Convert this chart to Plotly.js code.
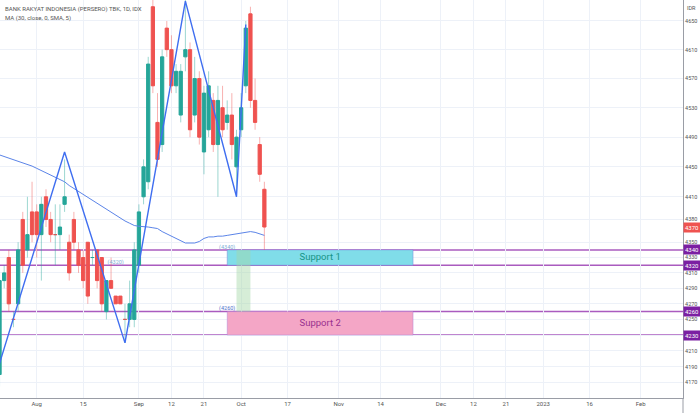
<!DOCTYPE html>
<html><head><meta charset="utf-8">
<script src="https://cdn.plot.ly/plotly-3.0.1.min.js"></script>
<style>html,body{margin:0;padding:0;background:#fff}#chart{width:700px;height:413px}</style>
</head><body><div id="chart"></div>
<script>
// ---- data ----
const dates = ['2022-07-20','2022-07-21','2022-07-22','2022-07-25','2022-07-26','2022-07-27','2022-07-28','2022-07-29',
'2022-08-01','2022-08-02','2022-08-03','2022-08-04','2022-08-05','2022-08-08','2022-08-09','2022-08-10','2022-08-11','2022-08-12',
'2022-08-15','2022-08-16','2022-08-18','2022-08-19','2022-08-22','2022-08-23','2022-08-24','2022-08-25','2022-08-26','2022-08-29','2022-08-30','2022-08-31',
'2022-09-01','2022-09-02','2022-09-05','2022-09-06','2022-09-07','2022-09-08','2022-09-09','2022-09-12','2022-09-13','2022-09-14','2022-09-15','2022-09-16','2022-09-19','2022-09-20','2022-09-21','2022-09-22','2022-09-23','2022-09-26','2022-09-27','2022-09-28','2022-09-29','2022-09-30',
'2022-10-03','2022-10-04','2022-10-05','2022-10-06','2022-10-07','2022-10-10'];
const opens  = [4180,4300,4330,4250,4270,4380,4340,4390, 4390,4360,4410,4380,4360,4360,4400,4350,4380,4340, 4330,4350,4330,4340,4330,4260,4300,4280,4280,4250,4250,4250, 4320,4410,4430,4670,4510,4480,4640,4610,4560,4520,4600,4610,4520,4570,4470,4500,4540,4480,4530,4510,4520,4450, 4500,4560,4660,4540,4480,4420];
const highs  = [4310,4320,4340,4260,4350,4390,4410,4430, 4400,4410,4420,4390,4400,4400,4460,4360,4390,4350, 4340,4350,4340,4340,4330,4300,4330,4280,4280,4270,4300,4350, 4400,4460,4600,4690,4550,4610,4650,4630,4590,4590,4680,4620,4600,4580,4560,4580,4550,4560,4560,4540,4550,4500, 4550,4650,4670,4570,4490,4430];
const lows   = [4165,4290,4260,4240,4260,4310,4330,4350, 4330,4300,4370,4350,4320,4340,4390,4300,4340,4310, 4290,4270,4320,4290,4260,4250,4290,4270,4270,4220,4240,4240, 4310,4400,4420,4550,4450,4470,4600,4550,4550,4510,4580,4490,4510,4480,4440,4490,4470,4410,4490,4500,4460,4410, 4490,4550,4530,4500,4430,4340];
const closes = [4300,4310,4270,4250,4340,4320,4360,4360, 4360,4400,4380,4360,4360,4370,4410,4310,4350,4320, 4300,4280,4330,4300,4270,4300,4290,4270,4270,4250,4270,4340, 4390,4450,4590,4560,4460,4600,4610,4560,4580,4580,4610,4500,4570,4490,4550,4560,4480,4540,4500,4520,4480,4490, 4530,4640,4540,4510,4440,4370];
const maValues = [4466,4464,4462,4460,4458,4456,4453,4451, 4448,4445,4442,4440,4437,4434,4430,4425,4421,4417, 4413,4409,4405,4401,4397,4393,4390,4386,4382,4378,4375,4372, 4371,4371,4370,4369,4368,4364,4361,4358,4354,4351,4349,4349,4349,4351,4355,4357,4357,4358,4358,4359,4360,4361, 4362,4363,4364,4363,4361,4359];
const zigDates  = ['2022-07-19','2022-08-09','2022-08-29','2022-09-15','2022-09-30','2022-10-04'];
const zigPrices = [4175,4470,4220,4678,4410,4645];
const levels = [4340,4320,4260,4230];
const lastClose = 4370;
const zoneNames = ['Support 1','Support 2'];
const zoneLow  = [4320,4230];
const zoneHigh = [4340,4260];
const zoneStart = '2022-09-28';
const zoneEnd   = '2022-11-23';
const zoneMid   = '2022-10-26';
const markStart = '2022-09-30', markEnd = '2022-10-05', markLow = 4260, markHigh = 4340;
const noteText   = ['(4340)','(4260)','(4320)'];
const noteDates  = ['2022-09-28','2022-09-28','2022-08-25'];
const notePrices = [4340,4260,4320];
const tickDates = ['2022-08-01','2022-08-15','2022-09-01','2022-09-12','2022-09-21','2022-10-03','2022-10-17','2022-11-01','2022-11-14','2022-12-01','2022-12-12','2022-12-21','2023-01-02','2023-01-16','2023-02-01'];
const tickText  = ['Aug','15','Sep','12','21','Oct','17','Nov','14','Dec','12','21','2023','16','Feb'];
const yTicks = [4170,4190,4210,4230,4250,4270,4290,4310,4330,4350,4380,4410,4450,4490,4530,4570,4610,4650];
const holidays = ['2022-08-17','2023-01-23'];

// ---- styles ----
const UP = '#26a69a', DOWN = '#ef5350';
const UPW = 'rgba(38,166,154,0.45)', DOWNW = 'rgba(239,83,80,0.45)';
const LEVEL = 'rgba(142,36,170,0.75)';

function wickSeries(up){
  const x=[], y=[];
  dates.forEach((d,i)=>{ if((closes[i]>=opens[i])===up){ x.push(d,d,null); y.push(lows[i],highs[i],null);} });
  return {x,y};
}
const wu = wickSeries(true), wd = wickSeries(false);

const traces = [
  {type:'scatter',mode:'lines',x:wu.x,y:wu.y,line:{color:UPW,width:1},hoverinfo:'skip'},
  {type:'scatter',mode:'lines',x:wd.x,y:wd.y,line:{color:DOWNW,width:1},hoverinfo:'skip'},
  {type:'candlestick',x:dates,open:opens,close:closes,
   high:opens.map((o,i)=>Math.max(o,closes[i])),low:opens.map((o,i)=>Math.min(o,closes[i])),
   increasing:{line:{color:UP,width:1},fillcolor:UP},decreasing:{line:{color:DOWN,width:1},fillcolor:DOWN},
   whiskerwidth:0,hoverinfo:'skip'},
  {type:'scatter',mode:'lines',x:dates,y:maValues,line:{color:'#5b84e8',width:1},hoverinfo:'skip'},
  {type:'scatter',mode:'lines',x:zigDates,y:zigPrices,line:{color:'#3f6ef0',width:1.4},hoverinfo:'skip'},
  {type:'scatter',mode:'text',x:[zoneMid],y:[Math.sqrt(zoneLow[0]*zoneHigh[0])],text:[zoneNames[0]],
   textfont:{family:'Roboto, sans-serif',size:9.5,color:'#179487'},hoverinfo:'skip'},
  {type:'scatter',mode:'text',x:[zoneMid],y:[Math.sqrt(zoneLow[1]*zoneHigh[1])],text:[zoneNames[1]],
   textfont:{family:'Roboto, sans-serif',size:9.5,color:'#99318f'},hoverinfo:'skip'},
  {type:'scatter',mode:'text',x:noteDates,y:notePrices,text:noteText,textposition:'top center',
   textfont:{family:'Roboto, sans-serif',size:5.5,color:['#7eaed6','#4f73cc','#7eaed6']},hoverinfo:'skip'}
];

const shapes = [];
levels.forEach(l=>shapes.push({type:'line',xref:'paper',x0:0,x1:1,yref:'y',y0:l,y1:l,line:{color:LEVEL,width:1.5},layer:'between'}));
zoneNames.forEach((n,i)=>shapes.push({type:'rect',xref:'x',yref:'y',x0:zoneStart,x1:zoneEnd,y0:zoneLow[i],y1:zoneHigh[i],
  fillcolor: i===0 ? 'rgb(128,221,233)' : 'rgb(244,166,198)', line:{width:0.8,color: i===0?'rgba(120,130,220,0.6)':'rgba(160,120,220,0.5)'},layer:'between'}));
shapes.push({type:'rect',xref:'x',yref:'y',x0:markStart,x1:markEnd,y0:markLow,y1:markHigh,fillcolor:'rgba(165,214,167,0.45)',line:{width:0},layer:'between'});
shapes.push({type:'line',xref:'paper',x0:1,x1:1,yref:'paper',y0:-0.04,y1:0,line:{color:'#9a9da6',width:1}});

const annotations = [
  {xref:'paper',yref:'paper',x:0.004,y:1,yshift:-3,xanchor:'left',yanchor:'top',showarrow:false,
   text:'BANK RAKYAT INDONESIA (PERSERO) TBK, 1D, IDX',font:{family:'Roboto, sans-serif',size:6,color:'#555'}},
  {xref:'paper',yref:'paper',x:0.004,y:1,yshift:-12,xanchor:'left',yanchor:'top',showarrow:false,
   text:'MA (30, close, 0, SMA, 5)',font:{family:'Roboto, sans-serif',size:6,color:'#555'}},
  {xref:'paper',yref:'paper',x:1,xshift:2,y:1,yshift:-3,xanchor:'left',yanchor:'top',showarrow:false,
   text:'IDR',font:{family:'Roboto, sans-serif',size:5.5,color:'#555'}}
];
levels.forEach(l=>annotations.push({xref:'paper',yref:'y',x:1,xanchor:'left',y:Math.log10(l),showarrow:false,
  text:String(l),bgcolor:'#7b1fa2',borderpad:1,font:{family:'Roboto, sans-serif',size:6,color:'#fff'}}));
annotations.push({xref:'paper',yref:'y',x:1,xanchor:'left',y:Math.log10(lastClose),showarrow:false,
  text:String(lastClose),bgcolor:DOWN,borderpad:1,font:{family:'Roboto, sans-serif',size:6,color:'#fff'}});

const layout = {
  width:700,height:413,margin:{l:0,r:17,t:0,b:15},
  paper_bgcolor:'#fff',plot_bgcolor:'#fff',showlegend:false,hovermode:false,
  boxgap:0.3,boxgroupgap:0,
  xaxis:{type:'date',range:['2022-07-20 02:24','2023-02-14 02:24'],
    rangebreaks:[{bounds:['sat','mon']},{values:holidays}],
    rangeslider:{visible:false},tickvals:tickDates,ticktext:tickText,ticks:'',
    showgrid:true,gridcolor:'#edf1f8',gridwidth:1,showline:true,linecolor:'#9a9da6',linewidth:1,zeroline:false,
    tickfont:{family:'Roboto, sans-serif',size:6,color:'#555'}},
  yaxis:{type:'log',side:'right',range:[Math.log10(4150.5),Math.log10(4679.5)],
    tickvals:yTicks,ticktext:yTicks.map(String),ticks:'',
    showgrid:true,gridcolor:'#edf1f8',gridwidth:1,showline:true,linecolor:'#9a9da6',linewidth:1,zeroline:false,
    tickfont:{family:'Roboto, sans-serif',size:5.5,color:'#555'}},
  shapes:shapes,annotations:annotations
};
Plotly.newPlot('chart',traces,layout,{staticPlot:true,displayModeBar:false});
</script></body></html>
